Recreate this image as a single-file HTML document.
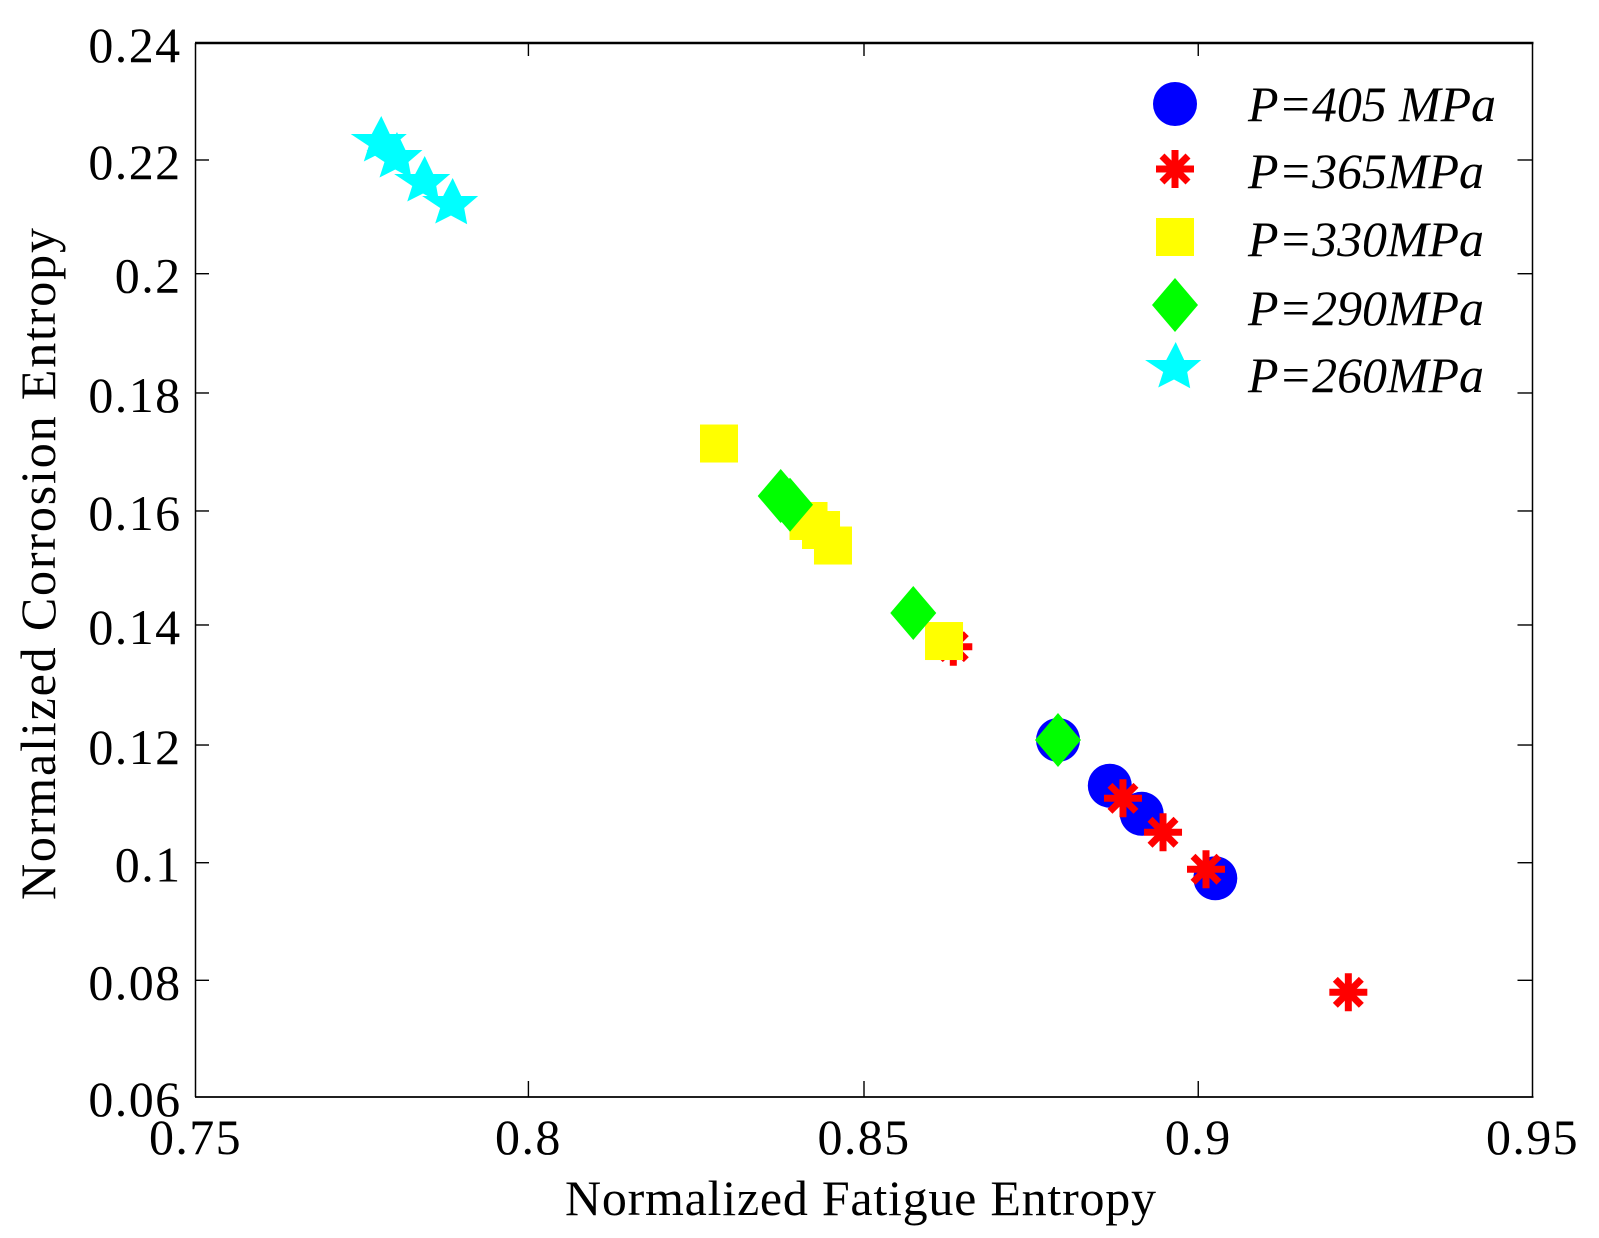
<!DOCTYPE html>
<html lang="en">
<head>
<meta charset="utf-8">
<title>Normalized Corrosion Entropy vs Normalized Fatigue Entropy</title>
<style>
html,body{margin:0;padding:0;background:#fff;width:1599px;height:1238px;overflow:hidden}
svg{display:block}
text{font-family:"Liberation Serif",serif;fill:#000}
</style>
</head>
<body>
<svg id="chart" xmlns="http://www.w3.org/2000/svg" width="1599" height="1238" viewBox="0 0 1599 1238"></svg>
<script>
/* Tick locations: the source ticks are slightly uneven */
const xTickValues = [0.75, 0.7998, 0.85, 0.9, 0.95];
const xTickLabels = ['0.75', '0.8', '0.85', '0.9', '0.95'];
const yTickValues = [0.06, 0.07993, 0.10001, 0.12011, 0.14061, 0.16008, 0.18023, 0.2006, 0.22002, 0.24];
const yTickLabels = ['0.06', '0.08', '0.1', '0.12', '0.14', '0.16', '0.18', '0.2', '0.22', '0.24'];

const p405X = [0.87902, 0.88677, 0.89154, 0.90255];
const p405Y = [0.12097, 0.11316, 0.10837, 0.09735];
const p365X = [0.86336, 0.88874, 0.89473, 0.90116, 0.92245];
const p365Y = [0.13690, 0.11101, 0.10521, 0.09889, 0.07788];
const p330X = [0.82831, 0.84170, 0.84357, 0.84536, 0.86197];
const p330Y = [0.17160, 0.15837, 0.15683, 0.15418, 0.13787];
const p290X = [0.83754, 0.83893, 0.85737, 0.87902];
const p290Y = [0.16264, 0.16115, 0.14266, 0.12097];
const p260X = [0.77779, 0.78014, 0.78429, 0.78847];
const p260Y = [0.22361, 0.22087, 0.21677, 0.21302];

const seriesNames = ['p-405', 'p-365', 'p-330', 'p-290', 'p-260'];
const legendLabels = ['P=405 MPa', 'P=365MPa', 'P=330MPa', 'P=290MPa', 'P=260MPa'];

const NS = 'http://www.w3.org/2000/svg';
const svg = document.getElementById('chart');
const L = 195.5, R = 1532.5, T = 43, B = 1097;
const X0 = 0.75, X1 = 0.95, Y0 = 0.06, Y1 = 0.24;
function xAxis(v) { return L + (v - X0) / (X1 - X0) * (R - L); }
function yAxis(v) { return B - (v - Y0) / (Y1 - Y0) * (B - T); }

function make(tag, attrs, parent) {
  const el = document.createElementNS(NS, tag);
  for (const k in attrs) el.setAttribute(k, attrs[k]);
  (parent || svg).appendChild(el);
  return el;
}

function drawLine(x1, y1, x2, y2, w, parent) {
  return make('line', { x1: x1, y1: y1, x2: x2, y2: y2, stroke: '#000', 'stroke-width': w }, parent);
}

function drawCircle(cx, cy, parent) {
  return make('circle', { cx: cx, cy: cy, r: 22, fill: '#0000ff' }, parent);
}
function drawAsterisk(cx, cy, parent) {
  const g = make('g', { stroke: '#ff0000', 'stroke-width': 7, fill: 'none' }, parent);
  make('line', { x1: cx - 19, y1: cy, x2: cx + 19, y2: cy }, g);
  make('line', { x1: cx, y1: cy - 19, x2: cx, y2: cy + 19 }, g);
  make('line', { x1: cx - 13, y1: cy - 13, x2: cx + 13, y2: cy + 13 }, g);
  make('line', { x1: cx - 13, y1: cy + 13, x2: cx + 13, y2: cy - 13 }, g);
  return g;
}
function drawSquare(cx, cy, parent) {
  return make('rect', { x: cx - 19, y: cy - 19, width: 38, height: 38, fill: '#ffff00' }, parent);
}
function drawDiamond(cx, cy, parent) {
  const pts = [[0, -27], [23, 0], [0, 27], [-23, 0]].map(p => (cx + p[0]) + ',' + (cy + p[1])).join(' ');
  return make('polygon', { points: pts, fill: '#00ff00' }, parent);
}
function drawStar(cx, cy, parent) {
  const shape = [[0, -23], [8.5, -5], [25.5, -5], [11.5, 7], [14.5, 23.3], [-1.7, 14.5], [-17.5, 22.5], [-12.5, 7], [-30.6, -5], [-9.5, -5]];
  const pts = shape.map(p => (cx + p[0]) + ',' + (cy + p[1])).join(' ');
  return make('polygon', { points: pts, fill: '#00ffff' }, parent);
}

/* white background */
const bg = make('rect', { x: 0, y: 0, width: 1599, height: 1238, fill: '#fff' });



/* series: drawn in original stacking order */
const seriesX = [p405X, p365X, p330X, p290X, p260X];
const seriesY = [p405Y, p365Y, p330Y, p290Y, p260Y];
const drawers = [drawCircle, drawAsterisk, drawSquare, drawDiamond, drawStar];
seriesX.forEach(function (xs, s) {
  const group = make('g', {});
  
  
  xs.forEach(function (xv, i) {
    const mark = drawers[s](xAxis(xv), yAxis(seriesY[s][i]), group);
    
    
  });
});

/* axes frame */
const frame = make('g', {});


drawLine(L - 0.5, T, R + 1, T, 2.4, frame);
drawLine(L - 0.5, B, R + 1, B, 1.7, frame);
drawLine(L, T, L, B, 1.5, frame);
drawLine(R, T, R, B, 1.5, frame);

/* x ticks */
const xTickGroup = make('g', {});


xTickValues.forEach(function (v, i) {
  const x = xAxis(v);
  if (i > 0 && i < xTickValues.length - 1) {
    drawLine(x, T, x, T + 13, 1.4, xTickGroup);
    drawLine(x, B, x, B - 16, 1.4, xTickGroup);
  }
  const t = make('text', { x: x, y: 1154, 'font-size': 50, 'text-anchor': 'middle', 'letter-spacing': 1.4 }, xTickGroup);
  
  
  t.textContent = xTickLabels[i];
});

/* y ticks */
const yTickGroup = make('g', {});


yTickValues.forEach(function (v, i) {
  const y = yAxis(v);
  if (i > 0 && i < yTickValues.length - 1) {
    drawLine(L, y, L + 13.5, y, 1.4, yTickGroup);
    drawLine(R, y, R - 15, y, 1.4, yTickGroup);
  }
  const t = make('text', { x: 181.5, y: y + 19, 'font-size': 50, 'text-anchor': 'end', 'letter-spacing': 1.4 }, yTickGroup);
  
  
  t.textContent = yTickLabels[i];
});

/* axis titles */
const xTitle = make('text', { x: 565, y: 1215, 'font-size': 50, textLength: 591, lengthAdjust: 'spacing' });


xTitle.textContent = 'Normalized Fatigue Entropy';

const yTitle = make('text', { x: 0, y: 0, 'font-size': 50, textLength: 672, lengthAdjust: 'spacing', transform: 'translate(55 900) rotate(-90)' });


yTitle.textContent = 'Normalized Corrosion Entropy';

/* legend */
const legend = make('g', {});


const legendMarkerY = [104, 169, 237, 305, 365];
const legendBaseY = [121, 188, 256, 325, 392];
const legendWidths = [248, 236, 236, 236, 236];
legendLabels.forEach(function (label, i) {
  const entry = make('g', {}, legend);
  
  
  const m = drawers[i](i === 4 ? 1175.7 : 1175, legendMarkerY[i], entry);
  
  
  const t = make('text', { x: 1248, y: legendBaseY[i], 'font-size': 50, 'font-style': 'italic', textLength: legendWidths[i], lengthAdjust: 'spacing' }, entry);
  
  
  t.textContent = label;
});
</script>
</body>
</html>
